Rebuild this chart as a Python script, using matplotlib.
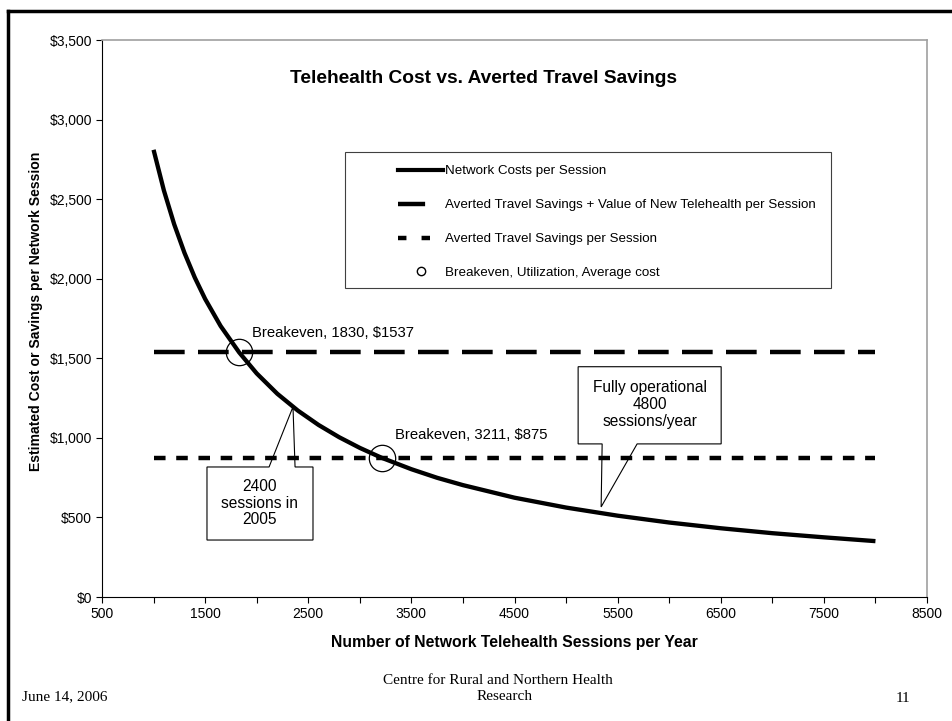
import matplotlib.pyplot as plt
from matplotlib.lines import Line2D
from matplotlib.patches import Polygon, Rectangle
from matplotlib.ticker import FuncFormatter, MultipleLocator

# network cost per session
sessions = [1000, 1100, 1200, 1300, 1400, 1500, 1650, 1830, 2000, 2200, 2400,
            2600, 2800, 3000, 3211, 3500, 3750, 4000, 4500, 5000, 5500, 6000,
            6500, 7000, 7500, 8000]
cost = [2810, 2555, 2342, 2162, 2007, 1873, 1703, 1537, 1405, 1277, 1171,
        1081, 1004, 937, 875, 803, 749, 703, 624, 562, 511, 468,
        432, 401, 375, 351]

line_x = [1000, 8000]
travel_plus_value = [1537, 1537]
travel_only = [875, 875]

breakeven_x = [1830, 3211]
breakeven_y = [1537, 875]

plt.rcParams['font.family'] = ['Liberation Sans', 'DejaVu Sans']

fig = plt.figure(figsize=(9.52, 7.21), dpi=100)
ax = fig.add_axes([102 / 952, 1 - 597 / 721, 825 / 952, 557 / 721])

ax.plot(sessions, cost, color='black', lw=3.1, solid_capstyle='butt', zorder=4)
ax.plot(line_x, travel_plus_value, color='black', lw=3.2,
        dashes=(6.9, 3.0), dash_capstyle='butt', zorder=4)
ax.plot(line_x, travel_only, color='black', lw=3.2,
        dashes=(2.6, 2.4), dash_capstyle='butt', zorder=4)
ax.plot(breakeven_x, breakeven_y, ls='none', marker='o', ms=19,
        mfc='none', mec='black', mew=0.9, zorder=5)

ax.set_xlim(500, 8500)
ax.set_ylim(0, 3500)
ax.xaxis.set_major_locator(MultipleLocator(500))
ax.yaxis.set_major_locator(MultipleLocator(500))
ax.xaxis.set_major_formatter(FuncFormatter(
    lambda v, p: '%d' % v if int(v) % 1000 == 500 else ''))
ax.yaxis.set_major_formatter(FuncFormatter(lambda v, p: '${:,.0f}'.format(v)))
ax.tick_params(direction='out', length=4, width=0.8, labelsize=10, pad=3)
for s in ['top', 'right']:
    ax.spines[s].set_color('#a0a0a0')
    ax.spines[s].set_linewidth(1.2)
for s in ['left', 'bottom']:
    ax.spines[s].set_linewidth(0.8)

ax.set_xlabel('Number of Network Telehealth Sessions per Year',
              fontsize=11.3, fontweight='bold', labelpad=10)
ax.set_ylabel('Estimated Cost or Savings per Network Session',
              fontsize=10.1, fontweight='bold', va='bottom')
ax.yaxis.set_label_coords(-0.0715, 0.5126)
ax.text(0.462, 0.93, 'Telehealth Cost vs. Averted Travel Savings',
        transform=ax.transAxes, ha='center', va='center',
        fontsize=13.75, fontweight='bold')

# point labels
ax.text(1955, 1660, 'Breakeven, 1830, $1537', fontsize=10.7, va='center')
ax.text(3342, 1019, 'Breakeven, 3211, $875', fontsize=10.7, va='center')

# callouts
c1 = [(1518, 358), (1518, 817), (2120, 817), (2352, 1195), (2372, 817),
      (2546, 817), (2546, 358)]
ax.add_patch(Polygon(c1, closed=True, fc='white', ec='black', lw=0.8, zorder=2))
ax.text(2032, 590, '2400\nsessions in\n2005', ha='center', va='center',
        fontsize=11.2, linespacing=1.15, zorder=3)
c2 = [(5117, 1447), (6504, 1447), (6504, 962), (5689, 962), (5340, 566),
      (5350, 962), (5117, 962)]
ax.add_patch(Polygon(c2, closed=True, fc='white', ec='black', lw=0.8, zorder=2))
ax.text(5810, 1210, 'Fully operational\n4800\nsessions/year', ha='center',
        va='center', fontsize=11.2, linespacing=1.15, zorder=3)

# legend with its own box
ax.add_patch(Rectangle((243 / 825, 1 - 248 / 557), 486 / 825, 136 / 557,
                       transform=ax.transAxes, fc='white', ec='#404040',
                       lw=0.8, zorder=6))
handles = [
    Line2D([], [], color='black', lw=3),
    Line2D([], [], color='black', lw=3.2, dashes=(6.1, 5.0)),
    Line2D([], [], color='black', lw=3.2, dashes=(1.9, 3.4)),
    Line2D([], [], ls='none', marker='o', ms=6, mfc='none', mec='black'),
]
labels = ['Network Costs per Session',
          'Averted Travel Savings + Value of New Telehealth per Session',
          'Averted Travel Savings per Session',
          'Breakeven, Utilization, Average cost']
leg = ax.legend(handles, labels, loc='upper left', frameon=False,
                bbox_to_anchor=(296 / 825, 1 - 125 / 557), borderpad=0,
                borderaxespad=0, handlelength=3.4, handletextpad=0.15,
                labelspacing=1.62, fontsize=9.6)
leg.set_zorder(7)

# slide frame and footer
fig.add_artist(Line2D([8 / 952, 8 / 952], [0, 1 - 11 / 721], color='black', lw=2.5))
fig.add_artist(Line2D([8 / 952, 1], [1 - 11 / 721, 1 - 11 / 721], color='black', lw=2.5))
foot = ['Liberation Serif', 'DejaVu Serif']
fig.text(498 / 952, 1 - 680 / 721, 'Centre for Rural and Northern Health',
         ha='center', va='center', fontsize=11, family=foot)
fig.text(505 / 952, 1 - 697 / 721, 'Research', ha='center', va='center',
         fontsize=11, family=foot)
fig.text(22 / 952, 1 - 697 / 721, 'June 14, 2006', ha='left', va='center',
         fontsize=11, family=foot)
fig.text(903 / 952, 1 - 698 / 721, '11', ha='center', va='center',
         fontsize=11, family=foot)

fig.savefig('out.png', dpi=100)
